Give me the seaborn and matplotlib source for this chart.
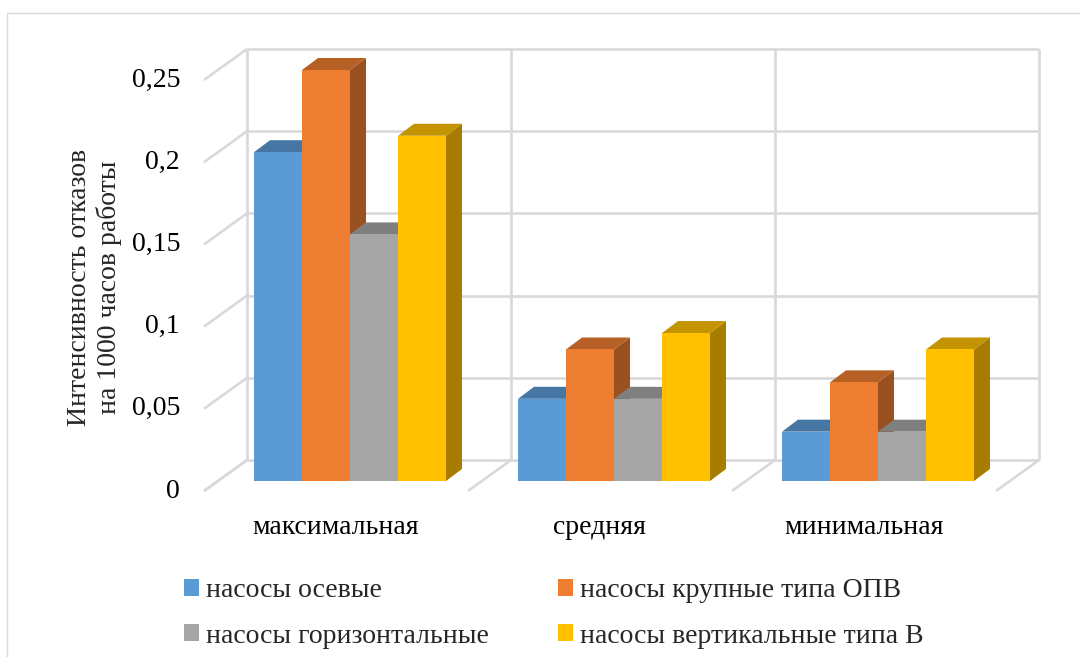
import numpy as np
import pandas as pd
import matplotlib
matplotlib.use("Agg")
import matplotlib.pyplot as plt
import seaborn as sns
from matplotlib.patches import Polygon, Patch
from matplotlib.lines import Line2D
from matplotlib.colors import to_rgb

# --- data -------------------------------------------------------------
categories = ["максимальная", "средняя", "минимальная"]
series_names = [
    "насосы осевые",
    "насосы крупные типа ОПВ",
    "насосы горизонтальные",
    "насосы вертикальные типа В",
]
axial = [0.20, 0.05, 0.03]
large_opv = [0.25, 0.08, 0.06]
horizontal = [0.15, 0.05, 0.03]
vertical_b = [0.21, 0.09, 0.08]
y_ticks = [0, 0.05, 0.1, 0.15, 0.2, 0.25]
y_tick_labels = ["0", "0,05", "0,1", "0,15", "0,2", "0,25"]
y_label = "Интенсивность отказов\nна 1000 часов работы"

colors = ["#5B9BD5", "#ED7D31", "#A5A5A5", "#FFC000"]

rows = []
for name, vals in zip(series_names, [axial, large_opv, horizontal, vertical_b]):
    for cat, v in zip(categories, vals):
        rows.append({"category": cat, "series": name, "value": v})
df = pd.DataFrame(rows)

# --- figure -----------------------------------------------------------
sns.set_theme(style="white")
plt.rcParams["font.family"] = ["Liberation Serif", "DejaVu Serif"]
FS = 20

W, H, DPI = 1080, 657, 100
fig = plt.figure(figsize=(W / DPI, H / DPI), dpi=DPI)
fig.patch.set_facecolor("white")

# bar front plane: x 218..1010 px, value 0 at y=481 px, 0.25 at y=70 px
px_per_cat = 264.0
px_per_unit = 1644.0
ax = fig.add_axes([218 / W, (H - 481) / H, 792 / W, 411 / H])

sns.barplot(
    data=df, x="category", y="value", hue="series",
    order=categories, hue_order=series_names, palette=colors,
    width=192 / 264, saturation=1, legend=False, ax=ax,
    linewidth=0, edgecolor="none",
)
ax.set_xlim(-0.5, 2.5)
ax.set_ylim(0, 0.25)
ax.set_axis_off()

# depth offsets (pixels converted to data units)
def dxu(px):
    return px / px_per_cat

def dyu(px):
    return px / px_per_unit

BX, BY = dxu(29), dyu(21)      # back wall relative to bar fronts
FX, FY = dxu(-14), dyu(-10)    # front floor edge relative to bar fronts
DX, DY = dxu(16), dyu(12)      # bar depth

grid_kw = dict(color="#D9D9D9", lw=1.9, solid_capstyle="butt", clip_on=False, zorder=1)
ymax = y_ticks[-1]

# back wall: horizontal gridlines
for v in y_ticks:
    ax.plot([-0.5 + BX, 2.5 + BX], [v + BY, v + BY], **grid_kw)
    # side wall diagonals
    ax.plot([-0.5 + FX, -0.5 + BX], [v + FY, v + BY], **grid_kw)
# back wall verticals and floor diagonals at category boundaries
for k in range(len(categories) + 1):
    xb = k - 0.5
    ax.plot([xb + BX, xb + BX], [BY, ymax + BY], **grid_kw)
    ax.plot([xb + FX, xb + BX], [FY, BY], **grid_kw)

# --- 3D faces on the bars ---------------------------------------------
def shade(c, f):
    r, g, b = to_rgb(c)
    return (r * f, g * f, b * f)

bars = sorted(ax.patches, key=lambda p: p.get_x())
for i, p in enumerate(bars):
    x0 = p.get_x()
    x1 = x0 + p.get_width()
    h = p.get_height()
    fc = p.get_facecolor()
    base = 10 + i
    side = Polygon([(x1, 0), (x1, h), (x1 + DX, h + DY), (x1 + DX, DY)],
                   closed=True, facecolor=shade(fc, 0.65), edgecolor="none",
                   zorder=base, clip_on=False)
    top = Polygon([(x0, h), (x1, h), (x1 + DX, h + DY), (x0 + DX, h + DY)],
                  closed=True, facecolor=shade(fc, 0.77), edgecolor="none",
                  zorder=base + 0.1, clip_on=False)
    ax.add_patch(side)
    ax.add_patch(top)
    p.set_zorder(base + 0.2)
    p.set_clip_on(False)

# --- texts ------------------------------------------------------------
for v, lab in zip(y_ticks, y_tick_labels):
    ax.text(-0.5 + dxu(180 - 218), v + FY, lab, ha="right", va="center",
            fontsize=FS, color="#000000", clip_on=False)

for i, cat in enumerate(categories):
    ax.text(i + FX, dyu(-47), cat, ha="center", va="center",
            fontsize=FS, color="#000000", clip_on=False)

fig.text(94 / W, 1 - 287 / H, y_label, rotation=90, ha="center", va="center",
         fontsize=FS, multialignment="center", linespacing=1.2)

# legend: column-major fill, so order the handles for two rows
order = [0, 2, 1, 3]
handles = [Patch(facecolor=colors[j], edgecolor="none") for j in order]
labels = [series_names[j] for j in order]
fig.legend(handles, labels, ncol=2, loc="upper left",
           bbox_to_anchor=(184 / W, 1 - 578 / H), frameon=False,
           fontsize=FS, handlelength=0.55, handleheight=0.55,
           handletextpad=0.25, columnspacing=2.47, labelspacing=0.74,
           borderpad=0, borderaxespad=0)

# outer chart frame (top and left edges)
fig.add_artist(Line2D([7 / W, 1.0], [1 - 13 / H, 1 - 13 / H],
                      transform=fig.transFigure, color="#D9D9D9", lw=1.0))
fig.add_artist(Line2D([7 / W, 7 / W], [0, 1 - 13 / H],
                      transform=fig.transFigure, color="#D9D9D9", lw=1.0))

fig.savefig("out.png", dpi=DPI, facecolor="white")
